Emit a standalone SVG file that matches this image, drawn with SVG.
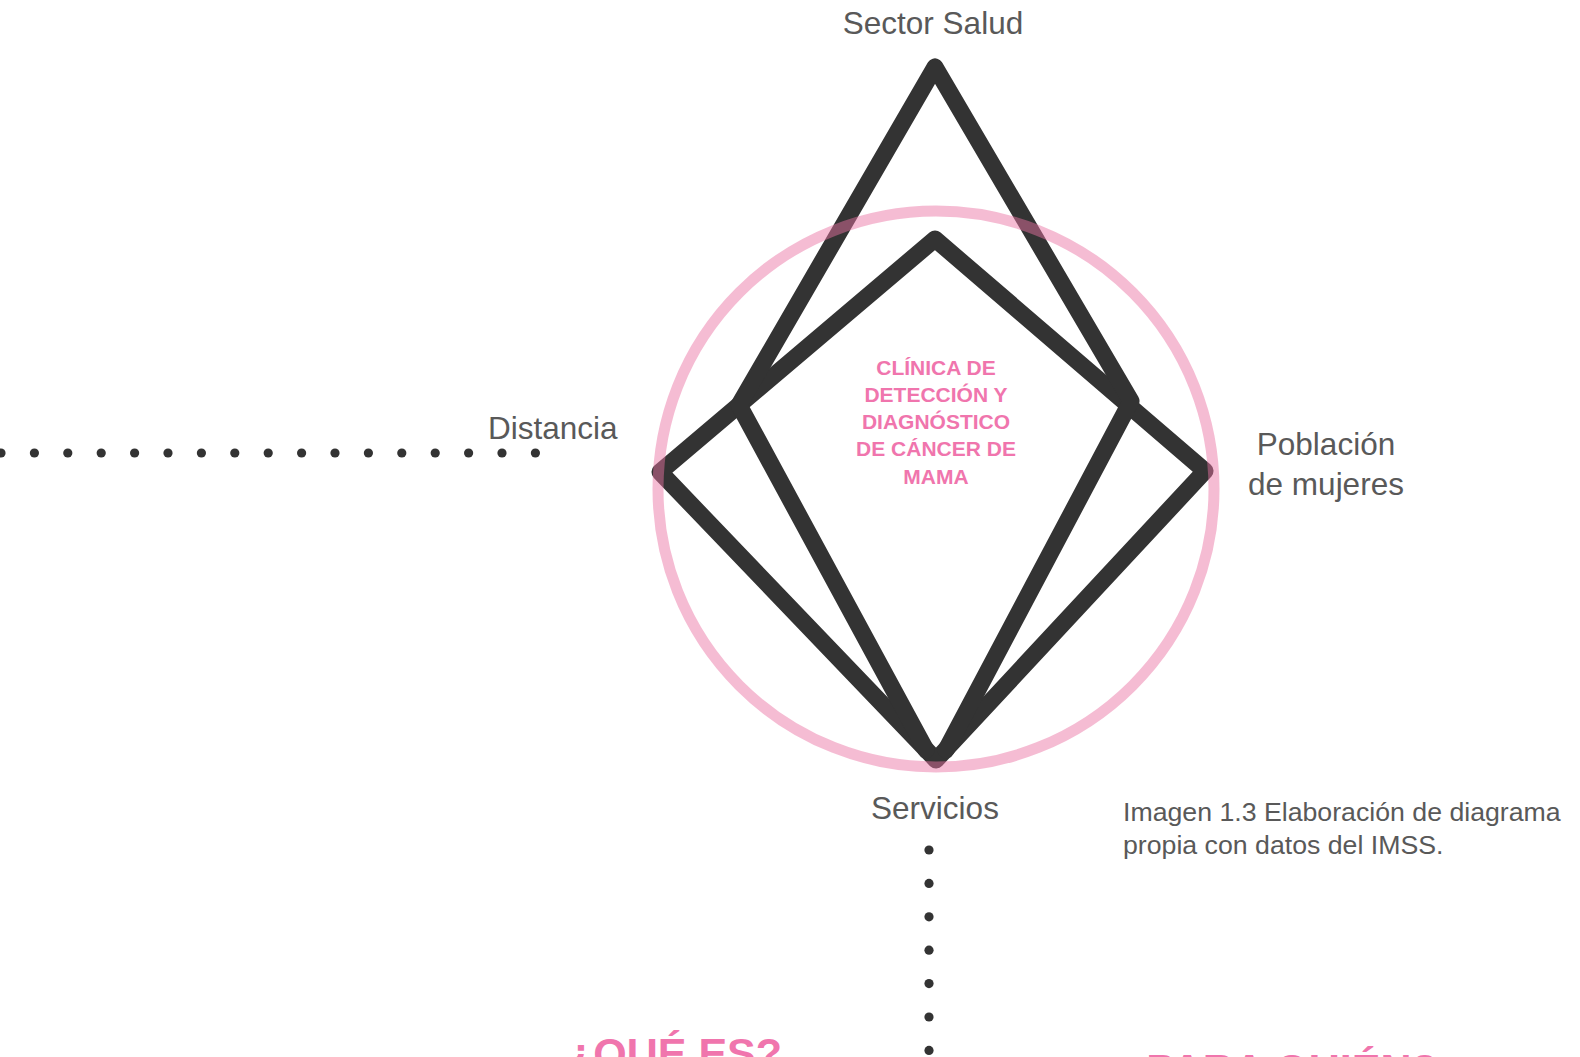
<svg xmlns="http://www.w3.org/2000/svg" width="1580" height="1057" viewBox="0 0 1580 1057">
<style>
.lbl{font-family:"Liberation Sans",Arial,sans-serif;fill:#595959;font-size:31.5px}
.cap{font-family:"Liberation Sans",Arial,sans-serif;fill:#595959;font-size:26.7px}
.ctr{font-family:"Liberation Sans",Arial,sans-serif;fill:#f075ad;font-size:21px;font-weight:bold}
.ttl{font-family:"Liberation Sans",Arial,sans-serif;fill:#f075ad;font-size:43px;font-weight:bold}
.ln{fill:none;stroke:#333333;stroke-width:17;stroke-linejoin:round;stroke-linecap:round}
.dot{fill:#333333}
</style>
<defs>
<circle id="d" r="4.6" class="dot"/>
</defs>
<rect width="1580" height="1057" fill="#ffffff"/>
<g id="connectors">
<g id="dots-left">
<use href="#d" x="1" y="453"/><use href="#d" x="34.4" y="453"/><use href="#d" x="67.8" y="453"/><use href="#d" x="101.2" y="453"/><use href="#d" x="134.6" y="453"/><use href="#d" x="168" y="453"/><use href="#d" x="201.4" y="453"/><use href="#d" x="234.8" y="453"/><use href="#d" x="268.2" y="453"/><use href="#d" x="301.6" y="453"/><use href="#d" x="335" y="453"/><use href="#d" x="368.4" y="453"/><use href="#d" x="401.8" y="453"/><use href="#d" x="435.2" y="453"/><use href="#d" x="468.6" y="453"/><use href="#d" x="502" y="453"/><use href="#d" x="535.4" y="453"/>
</g>
<g id="dots-down">
<use href="#d" x="929" y="850"/><use href="#d" x="929" y="883.4"/><use href="#d" x="929" y="916.8"/><use href="#d" x="929" y="950.2"/><use href="#d" x="929" y="983.6"/><use href="#d" x="929" y="1017"/><use href="#d" x="929" y="1050.4"/>
</g>
</g>
<g id="kite">
<path class="ln" d="M660,472 L935,239 L1205,471 L936,760 Z"/>
<path class="ln" d="M935,67 L739,405 L926,750 M935,67 L1131,401 L946,750"/>
</g>
<g id="ring">
<circle cx="936" cy="489" r="278" fill="none" stroke="#ea73a3" stroke-opacity="0.48" stroke-width="11"/>
</g>
<g id="node-center">
<text class="ctr" text-anchor="middle" x="936" y="375">CLÍNICA DE</text>
<text class="ctr" text-anchor="middle" x="936" y="402">DETECCIÓN Y</text>
<text class="ctr" text-anchor="middle" x="936" y="429">DIAGNÓSTICO</text>
<text class="ctr" text-anchor="middle" x="936" y="456">DE CÁNCER DE</text>
<text class="ctr" text-anchor="middle" x="936" y="484">MAMA</text>
</g>
<g id="node-sector-salud"><text class="lbl" text-anchor="middle" x="933" y="34">Sector Salud</text></g>
<g id="node-distancia"><text class="lbl" x="488" y="439">Distancia</text></g>
<g id="node-poblacion"><text class="lbl" text-anchor="middle" x="1326" y="455">Población</text><text class="lbl" text-anchor="middle" x="1326" y="495">de mujeres</text></g>
<g id="node-servicios"><text class="lbl" text-anchor="middle" x="935" y="819">Servicios</text></g>
<g id="caption"><text class="cap" x="1123" y="821">Imagen 1.3 Elaboración de diagrama</text><text class="cap" x="1123" y="854">propia con datos del IMSS.</text></g>
<g id="title-que-es"><text class="ttl" x="567" y="1068">¿QUÉ ES?</text></g>
<g id="title-para-quien"><text class="ttl" x="1120" y="1084">¿PARA QUIÉN?</text></g>
</svg>
